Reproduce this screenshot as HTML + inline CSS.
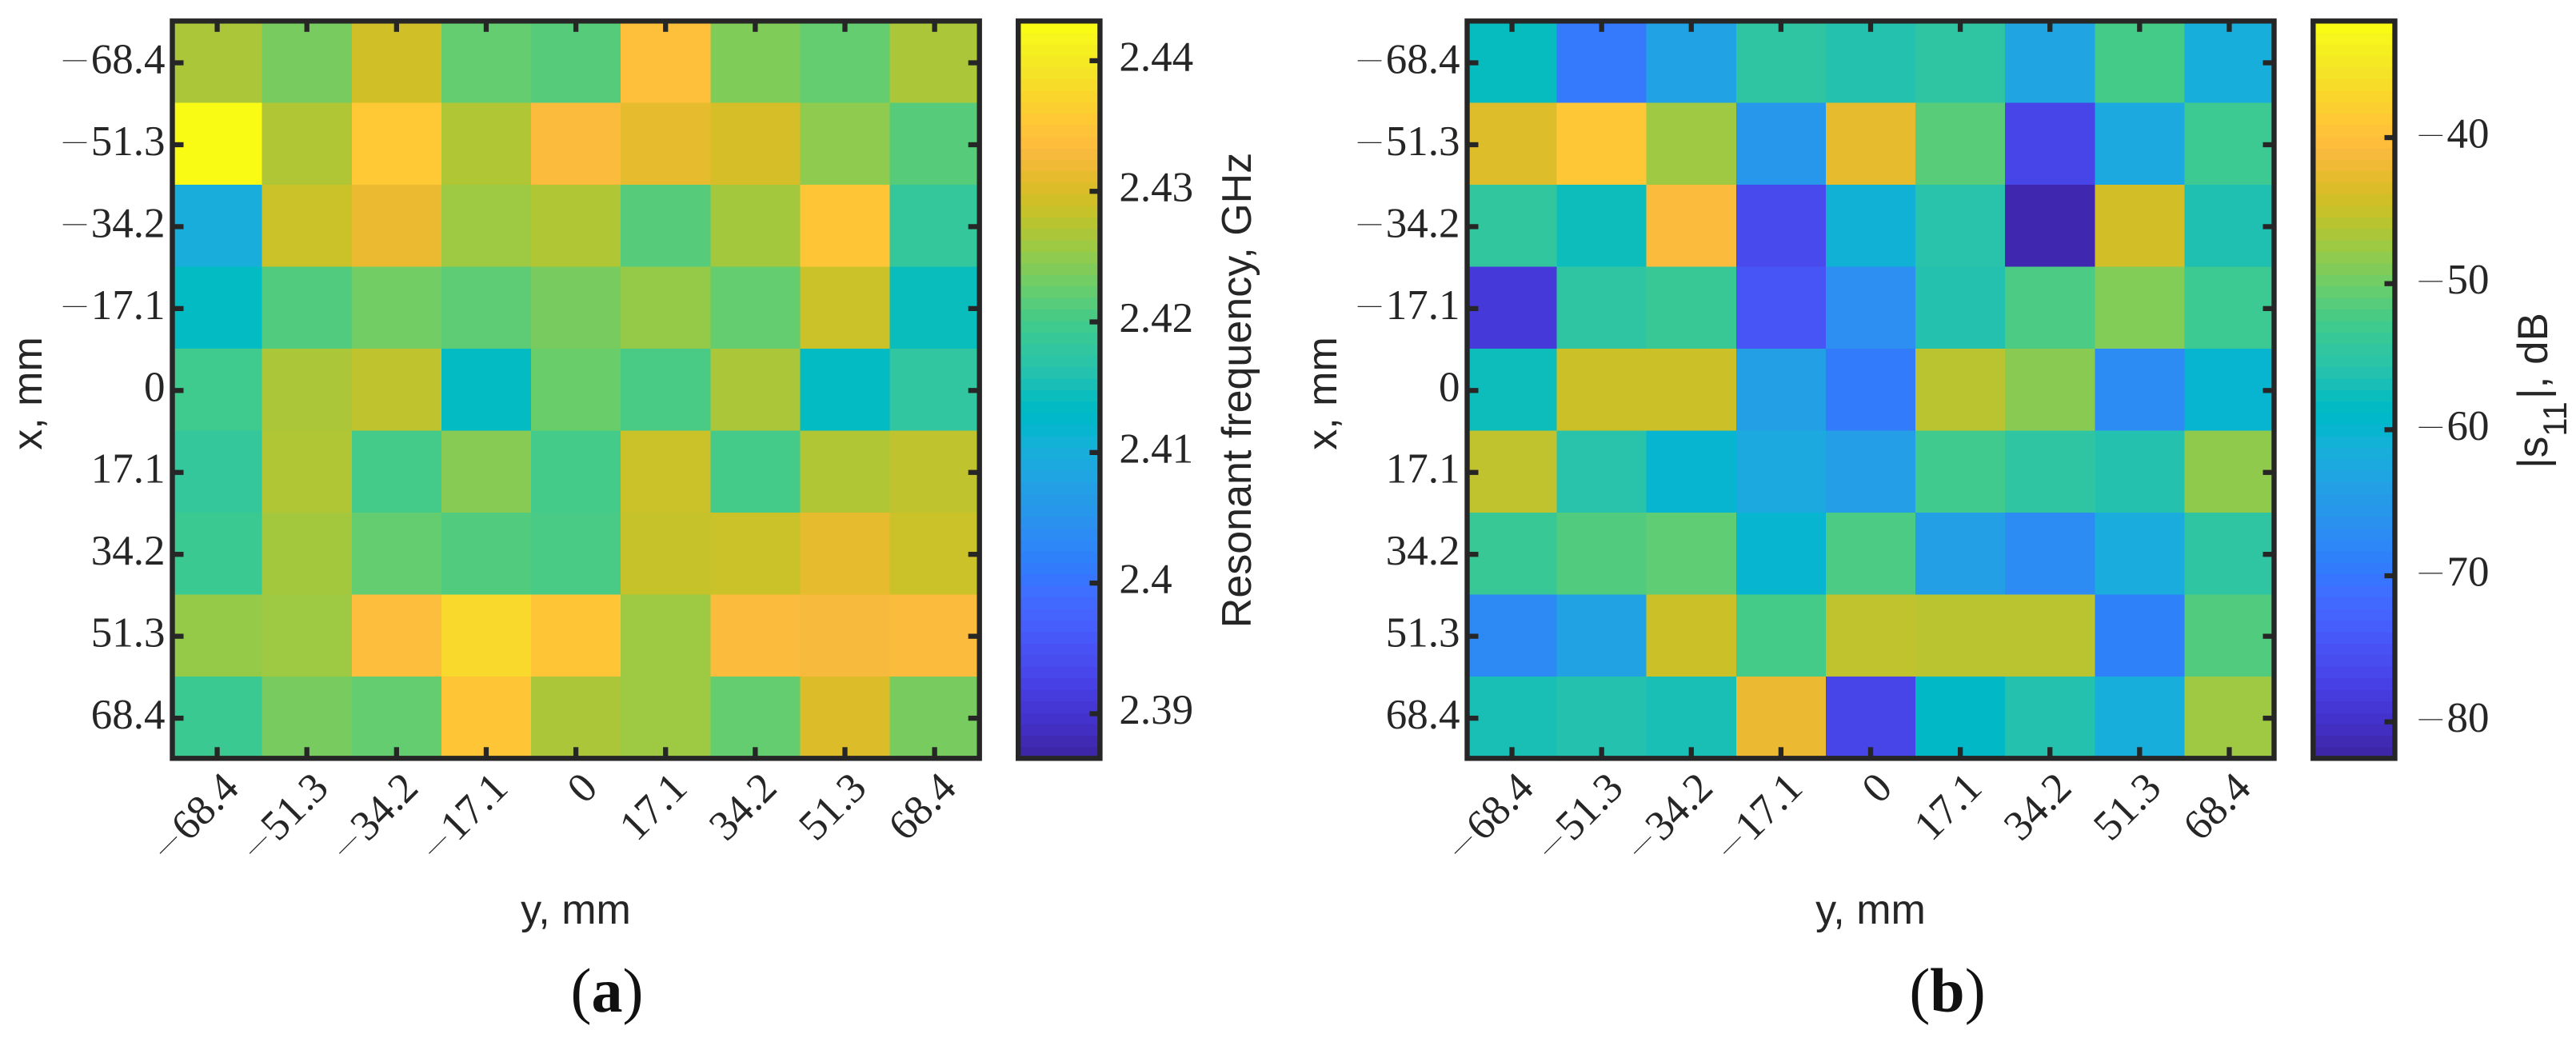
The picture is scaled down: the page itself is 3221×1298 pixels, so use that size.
<!DOCTYPE html>
<html lang="en">
<head>
<meta charset="utf-8">
<title>Resonant frequency and s11 heatmaps</title>
<style>
html,body{margin:0;padding:0;background:#fff;width:3221px;height:1298px;overflow:hidden}
svg{display:block;position:absolute;left:0;top:0}
.tick{font-family:"Liberation Serif",serif;font-size:53px;fill:#262626}
.tick-minus{font-family:"Liberation Serif",serif;font-size:64px;fill:#262626}
.label{font-family:"Liberation Sans",sans-serif;font-size:52px;fill:#262626}
.caption{font-family:"Liberation Serif",serif;font-size:78px;fill:#111}
</style>
</head>
<body>
<svg id="fig" width="3221" height="1298" viewBox="0 0 3221 1298" xmlns="http://www.w3.org/2000/svg">
  <g id="panel-a"></g>
  <g id="panel-b"></g>
  <text class="label" x="720" y="1155" text-anchor="middle">y, mm</text>
  <text class="label" x="2339" y="1155" text-anchor="middle">y, mm</text>
  <text class="label" transform="translate(52,492) rotate(-90)" text-anchor="middle">x, mm</text>
  <text class="label" transform="translate(1671,492) rotate(-90)" text-anchor="middle">x, mm</text>
  <text class="label" transform="translate(1564,488) rotate(-90)" text-anchor="middle">Resonant frequency, GHz</text>
  <text class="label" style="font-size:53px" transform="translate(3185,586) rotate(-90)">|s<tspan font-size="42" dy="24">11</tspan><tspan dy="-24" dx="3">|, dB</tspan></text>
  <text class="caption" x="759" y="1265" text-anchor="middle">(<tspan font-weight="bold">a</tspan>)</text>
  <text class="caption" x="2435" y="1265" text-anchor="middle">(<tspan font-weight="bold">b</tspan>)</text>
</svg>
<script>
const xCategories = ["−68.4","−51.3","−34.2","−17.1","0","17.1","34.2","51.3","68.4"];
const yCategories = ["−68.4","−51.3","−34.2","−17.1","0","17.1","34.2","51.3","68.4"];

const freqValues = [
  [2.4269,2.4237,2.4296,2.4224,2.4215,2.4345,2.4242,2.4224,2.4269],
  [2.4430,2.4273,2.4358,2.4273,2.4336,2.4314,2.4300,2.4251,2.4215],
  [2.4099,2.4291,2.4318,2.4260,2.4273,2.4215,2.4264,2.4354,2.4184],
  [2.4135,2.4211,2.4233,2.4220,2.4237,2.4255,2.4224,2.4291,2.4143],
  [2.4197,2.4269,2.4282,2.4135,2.4228,2.4206,2.4269,2.4135,2.4179],
  [2.4184,2.4273,2.4202,2.4246,2.4202,2.4291,2.4202,2.4273,2.4282],
  [2.4193,2.4264,2.4224,2.4211,2.4206,2.4287,2.4291,2.4314,2.4291],
  [2.4255,2.4260,2.4340,2.4381,2.4354,2.4260,2.4336,2.4331,2.4336],
  [2.4193,2.4237,2.4224,2.4354,2.4269,2.4260,2.4224,2.4305,2.4237]
];
const freqLimits = [2.38658, 2.44304];
const freqBarTicks = [2.39,2.40,2.41,2.42,2.43,2.44];
const freqBarTickLabels = ["2.39","2.4","2.41","2.42","2.43","2.44"];

const s11Values = [
  [-58.0,-70.07,-63.66,-54.8,-56.0,-54.8,-63.21,-52.39,-61.61],
  [-43.17,-38.76,-47.18,-65.66,-42.37,-51.19,-77.29,-62.41,-53.19],
  [-54.39,-57.6,-40.37,-76.49,-60.81,-55.6,-82.05,-43.97,-56.4],
  [-78.89,-54.8,-53.59,-74.88,-66.86,-56.0,-51.99,-48.78,-53.19],
  [-57.6,-44.37,-44.37,-64.06,-69.67,-45.58,-48.38,-67.26,-60.0],
  [-45.18,-55.6,-60.0,-62.41,-64.46,-52.79,-54.8,-56.0,-47.98],
  [-53.59,-51.59,-50.79,-60.0,-51.99,-64.01,-67.26,-62.01,-54.8],
  [-67.66,-63.61,-44.37,-52.39,-45.18,-45.58,-45.58,-68.87,-51.59],
  [-56.8,-56.0,-56.8,-41.97,-77.29,-58.8,-56.0,-61.61,-47.18]
];
const s11Limits = [-82.5, -32.02];
const s11BarTicks = [-80,-70,-60,-50,-40];
const s11BarTickLabels = ["−80","−70","−60","−50","−40"];

const parula = [
[.2422,.1504,.6603],[.2504,.1650,.7076],[.2578,.1818,.7511],[.2647,.1978,.7952],[.2706,.2147,.8364],[.2751,.2342,.8710],[.2783,.2559,.8991],[.2803,.2782,.9221],
[.2813,.3006,.9414],[.2810,.3228,.9579],[.2795,.3447,.9717],[.2760,.3667,.9829],[.2699,.3892,.9906],[.2602,.4123,.9952],[.2440,.4358,.9988],[.2206,.4603,.9973],
[.1963,.4847,.9892],[.1834,.5074,.9798],[.1786,.5289,.9682],[.1764,.5499,.9520],[.1687,.5703,.9359],[.1540,.5902,.9218],[.1460,.6091,.9079],[.1380,.6276,.8973],
[.1248,.6459,.8883],[.1113,.6635,.8763],[.0952,.6798,.8598],[.0689,.6948,.8394],[.0297,.7082,.8163],[.0036,.7203,.7917],[.0067,.7312,.7660],[.0433,.7411,.7394],
[.0964,.7500,.7120],[.1408,.7584,.6842],[.1717,.7670,.6554],[.1938,.7758,.6251],[.2161,.7843,.5923],[.2470,.7918,.5567],[.2906,.7973,.5188],[.3406,.8008,.4789],
[.3909,.8029,.4354],[.4456,.8024,.3909],[.5044,.7993,.3480],[.5616,.7942,.3045],[.6174,.7876,.2612],[.6720,.7793,.2227],[.7242,.7698,.1910],[.7738,.7598,.1646],
[.8203,.7498,.1535],[.8634,.7406,.1596],[.9035,.7330,.1774],[.9393,.7288,.2100],[.9728,.7298,.2394],[.9956,.7434,.2371],[.9970,.7659,.2199],[.9952,.7893,.2028],
[.9892,.8136,.1885],[.9786,.8386,.1766],[.9676,.8639,.1643],[.9610,.8890,.1537],[.9597,.9135,.1423],[.9628,.9373,.1265],[.9691,.9606,.1064],[.9769,.9839,.0805]
];

const SVGNS = "http://www.w3.org/2000/svg";
const INK = "#262626";
const TOP = 26.3, BOTTOM = 948.3;
const LINE = 6.4;

function rgb(c){ return "rgb(" + c.map(function(k){ return Math.round(k*255); }).join(",") + ")"; }

function colorAt(t){
  const p = Math.max(0, Math.min(1, t)) * (parula.length - 1);
  const i = Math.min(parula.length - 2, Math.floor(p));
  const f = p - i;
  return rgb(parula[i].map(function(k, n){ return k + (parula[i+1][n] - k) * f; }));
}

function make(parent, tag, attrs){
  const el = document.createElementNS(SVGNS, tag);
  Object.keys(attrs).forEach(function(k){ el.setAttribute(k, attrs[k]); });
  parent.appendChild(el);
  return el;
}

// Digits carry the font; the minus is a stretched, thinned glyph like the Computer Modern one.
function writeTickLabel(group, label, align){
  const negative = label.charAt(0) === "−";
  const digits = make(group, "text", {"class": "tick", "text-anchor": align});
  digits.textContent = negative ? label.slice(1) : label;
  if (negative) {
    const left = align === "end" ? -digits.getComputedTextLength() : 0;
    const minus = make(group, "text", {"class": "tick-minus", transform: "translate(" + (left - 38) + ",-6.8) scale(1,0.4)"});
    minus.textContent = "−";
  }
}

function drawPanel(g, cfg){
  const cw = (cfg.right - cfg.left) / xCategories.length;
  const ch = (BOTTOM - TOP) / yCategories.length;
  const xScale = function(i){ return cfg.left + (i + 0.5) * cw; };
  const yScale = function(j){ return TOP + (j + 0.5) * ch + 1; };
  const norm = function(v){ return (v - cfg.limits[0]) / (cfg.limits[1] - cfg.limits[0]); };
  const barY = function(v){ return BOTTOM - norm(v) * (BOTTOM - TOP); };

  cfg.values.forEach(function(row, j){
    row.forEach(function(v, i){
      const cell = make(g, "rect", {x: xScale(i) - cw/2, y: yScale(j) - 1 - ch/2, width: cw + 0.5, height: ch + 0.5, fill: colorAt(norm(v)), "shape-rendering": "crispEdges"});
      
      
    });
  });

  xCategories.forEach(function(label, i){
    const x = xScale(i);
    [[TOP, TOP + 13.5], [BOTTOM - 14, BOTTOM]].forEach(function(s){
      const t = make(g, "line", {x1: x, x2: x, y1: s[0], y2: s[1], stroke: INK, "stroke-width": 6.3});
      
      
    });
    const lab = make(g, "g", {transform: "translate(" + (x + 29.5) + ",988) rotate(-45)"});
    
    
    writeTickLabel(lab, label, "end");
  });

  yCategories.forEach(function(label, j){
    const y = yScale(j);
    [[cfg.left, cfg.left + 14], [cfg.right - 14, cfg.right]].forEach(function(s){
      const t = make(g, "line", {x1: s[0], x2: s[1], y1: y, y2: y, stroke: INK, "stroke-width": 6.3});
      
      
    });
    const lab = make(g, "g", {transform: "translate(" + (cfg.left - 9) + "," + (y + 13) + ")"});
    
    
    writeTickLabel(lab, label, "end");
  });

  const frame = make(g, "rect", {x: cfg.left, y: TOP, width: cfg.right - cfg.left, height: BOTTOM - TOP, fill: "none", stroke: INK, "stroke-width": LINE});
  
  

  const bandH = (BOTTOM - TOP) / parula.length;
  parula.forEach(function(c, k){
    const band = make(g, "rect", {x: cfg.barLeft, y: BOTTOM - (k + 1) * bandH, width: cfg.barRight - cfg.barLeft, height: bandH + 0.6, fill: rgb(c), "shape-rendering": "crispEdges"});
    
    
  });

  cfg.barTicks.forEach(function(v, k){
    const y = barY(v);
    const t = make(g, "line", {x1: cfg.barRight - 13, x2: cfg.barRight, y1: y, y2: y, stroke: INK, "stroke-width": 6.3});
    
    
    const lab = make(g, "g", {transform: "translate(" + (cfg.barRight + cfg.barLabelGap) + "," + (y + 12.5) + ")"});
    
    
    writeTickLabel(lab, cfg.barTickLabels[k], "start");
  });

  const barFrame = make(g, "rect", {x: cfg.barLeft, y: TOP, width: cfg.barRight - cfg.barLeft, height: BOTTOM - TOP, fill: "none", stroke: INK, "stroke-width": LINE});
  
  
}

drawPanel(document.getElementById("panel-a"), {
  left: 215.5, right: 1224.7, barLeft: 1273.2, barRight: 1375.4, barLabelGap: 24,
  values: freqValues, limits: freqLimits, barTicks: freqBarTicks, barTickLabels: freqBarTickLabels
});
drawPanel(document.getElementById("panel-b"), {
  left: 1834.5, right: 2843.5, barLeft: 2892.3, barRight: 2994.5, barLabelGap: 65,
  values: s11Values, limits: s11Limits, barTicks: s11BarTicks, barTickLabels: s11BarTickLabels
});
</script>
</body>
</html>
